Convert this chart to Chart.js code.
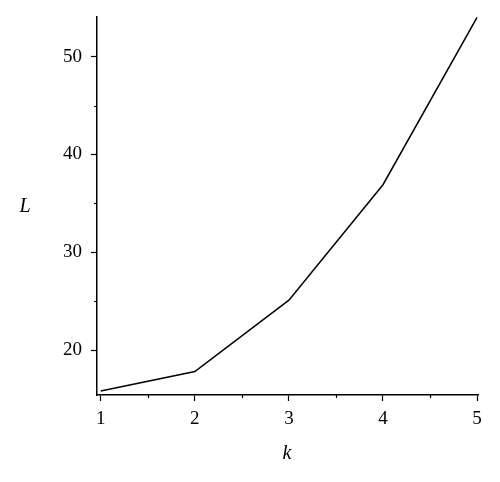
<!DOCTYPE html>
<html>
<head>
<meta charset="utf-8">
<script src="https://cdn.jsdelivr.net/npm/chart.js@4"></script>
<style>
  html, body { margin: 0; padding: 0; background: #fff; }
  #wrap { width: 500px; height: 482px; position: relative; }
</style>
</head>
<body>
<div id="wrap"><canvas id="myChart"></canvas></div>
<script>
// values
var kValues = [1, 2, 3, 4, 5];
var lValues = [15.8, 17.8, 25.1, 36.9, 54.0];
var xMinor = [1.5, 2.5, 3.5, 4.5];
var yMinor = [25, 35, 45];

var serif = '"Liberation Serif", "DejaVu Serif", serif';

var points = [];
for (var i = 0; i < kValues.length; i++) {
  points.push({ x: kValues[i], y: lValues[i] });
}

// minor ticks and the two axis letters
var extras = {
  id: 'extras',
  afterDraw: function(chart) {
    var ctx = chart.ctx;
    var xs = chart.scales.x, ys = chart.scales.y;
    var area = chart.chartArea;
    ctx.save();
    ctx.strokeStyle = '#000';
    ctx.lineWidth = 1.2;
    ctx.beginPath();
    xMinor.forEach(function(v) {
      var px = Math.round(xs.getPixelForValue(v)) + 0.5;
      ctx.moveTo(px, area.bottom);
      ctx.lineTo(px, area.bottom + 3);
    });
    yMinor.forEach(function(v) {
      var py = Math.round(ys.getPixelForValue(v)) + 0.5;
      ctx.moveTo(area.left, py);
      ctx.lineTo(area.left - 3, py);
    });
    ctx.stroke();
    ctx.fillStyle = '#000';
    ctx.font = 'italic 20px ' + serif;
    ctx.textAlign = 'center';
    ctx.textBaseline = 'middle';
    ctx.fillText('L', 25, 207);
    ctx.fillText('k', 287, 454);
    ctx.restore();
  }
};

new Chart("myChart", {
  type: "scatter",
  data: {
    datasets: [{
      data: points,
      showLine: true,
      borderColor: "#000",
      borderWidth: 1.5,
      pointRadius: 0,
      tension: 0
    }]
  },
  options: {
    responsive: true,
    maintainAspectRatio: false,
    animation: false,
    layout: { padding: { top: 17, right: 22, left: 0, bottom: 0 } },
    plugins: {
      legend: { display: false },
      tooltip: { enabled: false }
    },
    scales: {
      x: {
        type: "linear",
        min: 0.96,
        max: 5.01,
        afterFit: function(s) { s.height = 87; s.paddingLeft = 0; s.paddingRight = 0; },
        afterBuildTicks: function(s) {
          s.ticks = kValues.map(function(v) { return { value: v }; });
        },
        border: { display: true, color: "#000", width: 1.5 },
        grid: { drawOnChartArea: false, drawTicks: true, tickLength: 6, color: "#000", tickWidth: 1.2 },
        ticks: {
          color: "#000",
          padding: 7,
          maxRotation: 0,
          font: { family: serif, size: 19 }
        }
      },
      y: {
        min: 15.4,
        max: 54.05,
        afterFit: function(s) { s.width = 97; s.paddingTop = 0; s.paddingBottom = 0; },
        afterBuildTicks: function(s) {
          s.ticks = [20, 30, 40, 50].map(function(v) { return { value: v }; });
        },
        border: { display: true, color: "#000", width: 1.5 },
        grid: { drawOnChartArea: false, drawTicks: true, tickLength: 6, color: "#000", tickWidth: 1.2 },
        ticks: {
          color: "#000",
          padding: 9,
          font: { family: serif, size: 19 }
        }
      }
    }
  },
  plugins: [extras]
});
</script>
</body>
</html>
